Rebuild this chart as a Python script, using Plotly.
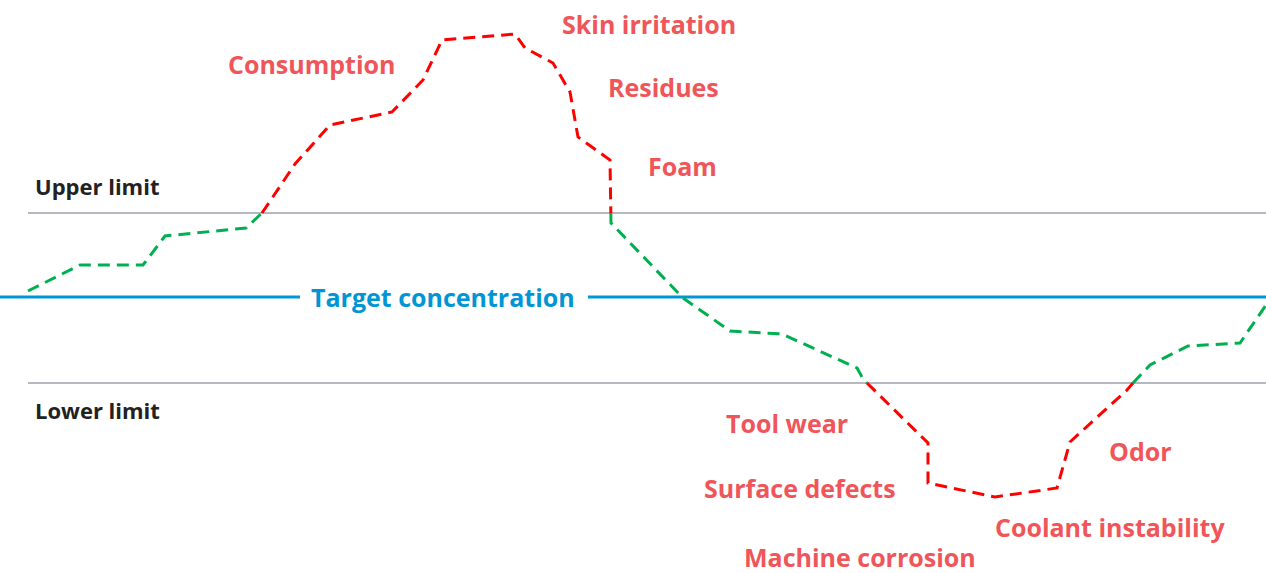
import plotly.graph_objects as go

# Concentration curve (x position, y position in chart units; y axis reversed)
curve_x = [28, 80, 143, 165, 246, 262, 295, 330, 392, 423, 442, 515, 525, 553, 570, 578, 610, 611, 683, 730, 782, 857, 862, 867, 928, 928, 995, 1057, 1070, 1127, 1133, 1150, 1188, 1240, 1266]
curve_y = [291, 265, 265, 236, 228, 213, 164, 125, 112, 80, 40, 34, 48, 63, 92, 137, 160, 223, 298, 331, 334, 368, 377, 383, 443, 483, 497, 488, 442, 390, 383, 365, 346, 343, 305]

upper_limit = 213
lower_limit = 383
target = 297

red_labels = ["Skin irritation", "Consumption", "Residues", "Foam", "Tool wear",
              "Surface defects", "Machine corrosion", "Coolant instability", "Odor"]
red_label_x = [649, 311, 663, 682, 787, 800, 860, 1110, 1140]
red_label_y = [24, 64, 87, 166, 423, 488, 557, 527, 451]

limit_labels = ["Upper limit", "Lower limit"]
limit_label_x = [33, 33]
limit_label_y = [186, 410]

GREEN = "#00b050"
RED = "#ff0000"
TEXT_RED = "#f0555a"
BLUE = "#0096d6"
GRAY = "#6f7382"

def inside(y):
    return lower_limit >= y >= upper_limit

# split curve into pieces at limit crossings
pieces = []
for i in range(len(curve_x) - 1):
    x0, y0, x1, y1 = curve_x[i], curve_y[i], curve_x[i + 1], curve_y[i + 1]
    ts = [0.0, 1.0]
    for lim in (upper_limit, lower_limit):
        if (y0 - lim) * (y1 - lim) < 0:
            ts.append((lim - y0) / (y1 - y0))
    ts.sort()
    for a, b in zip(ts[:-1], ts[1:]):
        xa, ya = x0 + a * (x1 - x0), y0 + a * (y1 - y0)
        xb, yb = x0 + b * (x1 - x0), y0 + b * (y1 - y0)
        col = GREEN if inside((ya + yb) / 2) else RED
        if pieces and pieces[-1][0] == col:
            pieces[-1][1].append(xb)
            pieces[-1][2].append(yb)
        else:
            pieces.append([col, [xa, xb], [ya, yb]])

fig = go.Figure()

# limit lines
for lim in (upper_limit, lower_limit):
    fig.add_trace(go.Scatter(x=[28, 1266], y=[lim, lim], mode="lines",
                             line=dict(color=GRAY, width=1.2), hoverinfo="skip"))
# target line with gap for its label
fig.add_trace(go.Scatter(x=[0, 300, None, 588, 1266], y=[target, target, None, target, target],
                         mode="lines", line=dict(color=BLUE, width=3), hoverinfo="skip"))

for col, xs, ys in pieces:
    fig.add_trace(go.Scatter(x=xs, y=ys, mode="lines",
                             line=dict(color=col, width=3, dash="12px,7px"), hoverinfo="skip"))

FONT = "Open Sans"
for t, x, y in zip(red_labels, red_label_x, red_label_y):
    fig.add_annotation(x=x, y=y, text="<b>%s</b>" % t, showarrow=False,
                       font=dict(family=FONT, size=25, color=TEXT_RED), xanchor="center", yanchor="middle")
for t, x, y in zip(limit_labels, limit_label_x, limit_label_y):
    fig.add_annotation(x=x, y=y, text="<b>%s</b>" % t, showarrow=False,
                       font=dict(family=FONT, size=22, color="#222222"), xanchor="left", yanchor="middle")
fig.add_annotation(x=443, y=target, text="<b>Target concentration</b>", showarrow=False,
                   font=dict(family=FONT, size=25, color=BLUE), xanchor="center", yanchor="middle")

fig.update_layout(width=1266, height=573, margin=dict(l=0, r=0, t=0, b=0),
                  plot_bgcolor="white", paper_bgcolor="white", showlegend=False)
fig.update_xaxes(range=[0, 1266], visible=False)
fig.update_yaxes(range=[573, 0], visible=False)

fig.write_html("out.html", config={"displayModeBar": False, "staticPlot": True},
               post_script="document.body.style.margin='0';document.body.style.overflow='hidden';")
